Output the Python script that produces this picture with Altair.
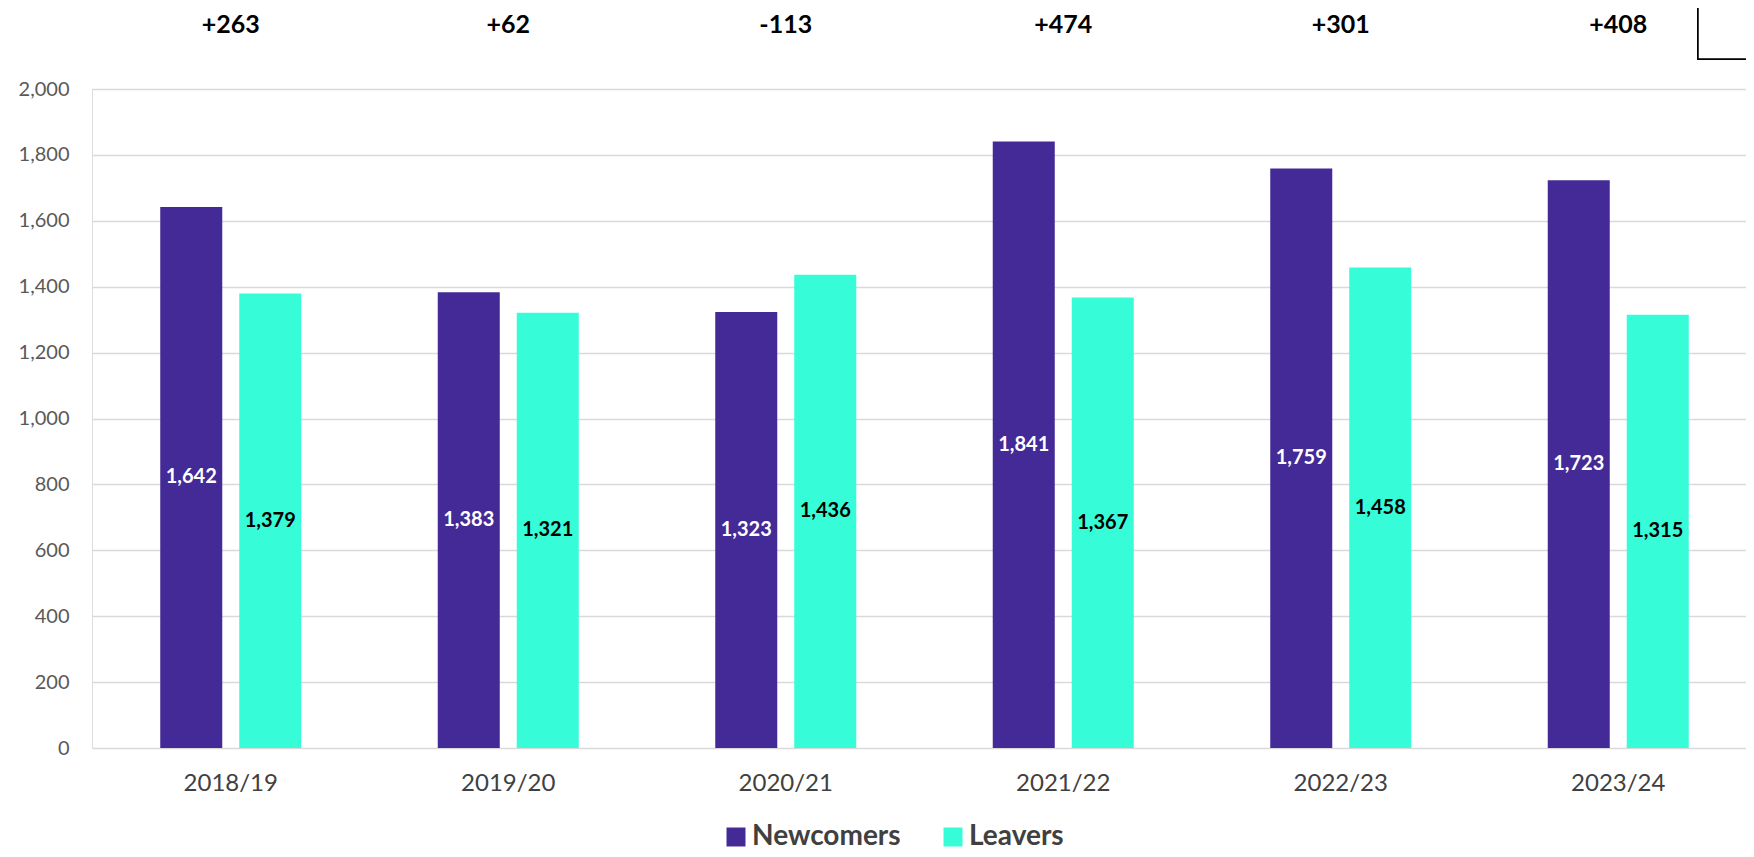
import altair as alt
import pandas as pd

years = ["2018/19", "2019/20", "2020/21", "2021/22", "2022/23", "2023/24"]
newcomers = [1642, 1383, 1323, 1841, 1759, 1723]
leavers = [1379, 1321, 1436, 1367, 1458, 1315]
net_labels = ["+263", "+62", "-113", "+474", "+301", "+408"]
series = ["Newcomers", "Leavers"]
colors = ["#432A96", "#36FDD8"]

rows = []
for y, n, l in zip(years, newcomers, leavers):
    rows.append({"year": y, "series": "Newcomers", "value": n, "mid": n / 2})
    rows.append({"year": y, "series": "Leavers", "value": l, "mid": l / 2})
df = pd.DataFrame(rows)
net_df = pd.DataFrame({"year": years, "net": net_labels})

FONT = "Lato"

x_enc = alt.X("year:N", sort=years, title=None,
              scale=alt.Scale(paddingInner=0, paddingOuter=0, range=[0, 1665]),
              axis=alt.Axis(labelAngle=0, ticks=False, tickSize=0, domain=False,
                            labelFontSize=24, labelColor="#404040", labelFont=FONT,
                            labelPadding=35, labelBaseline="middle"))
xo_enc = alt.XOffset("series:N", sort=series,
                     scale=alt.Scale(domain=series, paddingInner=0.215, paddingOuter=0.864))

base = alt.Chart(df)

bars = base.mark_bar().encode(
    x=x_enc,
    xOffset=xo_enc,
    y=alt.Y("value:Q", title=None,
            scale=alt.Scale(domain=[0, 2000]),
            axis=alt.Axis(values=list(range(0, 2001, 200)), format=",.0f", ticks=False, domain=False,
                          gridColor="#D9D9D9", gridWidth=1.5, labelFontSize=20,
                          labelColor="#595959", labelFont=FONT, labelPadding=23)),
    color=alt.Color("series:N", sort=series,
                    scale=alt.Scale(domain=series, range=colors),
                    legend=alt.Legend(title=None, orient="none", direction="horizontal",
                                      legendX=630, legendY=734, padding=0,
                                      symbolType="square", symbolSize=360, symbolStrokeWidth=0,
                                      symbolOpacity=1, labelFontSize=28, labelFontWeight="bold",
                                      labelColor="#404040", labelFont=FONT, labelOffset=2,
                                      columnPadding=38)),
)

lab_new = base.transform_filter(alt.datum.series == "Newcomers").mark_text(
    color="white", fontWeight="bold", fontSize=20, font=FONT, baseline="middle"
).encode(x=alt.X("year:N", sort=years), xOffset=xo_enc, y="mid:Q", text=alt.Text("value:Q", format=",.0f"))

lab_leav = base.transform_filter(alt.datum.series == "Leavers").mark_text(
    color="black", fontWeight="bold", fontSize=20, font=FONT, baseline="middle"
).encode(x=alt.X("year:N", sort=years), xOffset=xo_enc, y="mid:Q", text=alt.Text("value:Q", format=",.0f"))

net = alt.Chart(net_df).mark_text(
    color="black", fontWeight="bold", fontSize=25, font=FONT, baseline="middle"
).encode(x=alt.X("year:N", sort=years), y=alt.value(-64), text="net:N")

box = alt.Chart(net_df).mark_rect(fill="white", stroke="black", strokeWidth=1.5).encode(
    x=alt.value(1606), x2=alt.value(1700), y=alt.value(-120), y2=alt.value(-30)
)

chart = alt.layer(bars, lab_new, lab_leav, net, box).properties(
    width=1654, height=659,
    autosize=alt.AutoSizeParams(type="none"),
    padding={"left": 84, "top": 81, "right": 0, "bottom": 100},
).configure_view(stroke=None).configure(font=FONT)

chart.save("out.html", embed_options={"renderer": "svg", "actions": False})
